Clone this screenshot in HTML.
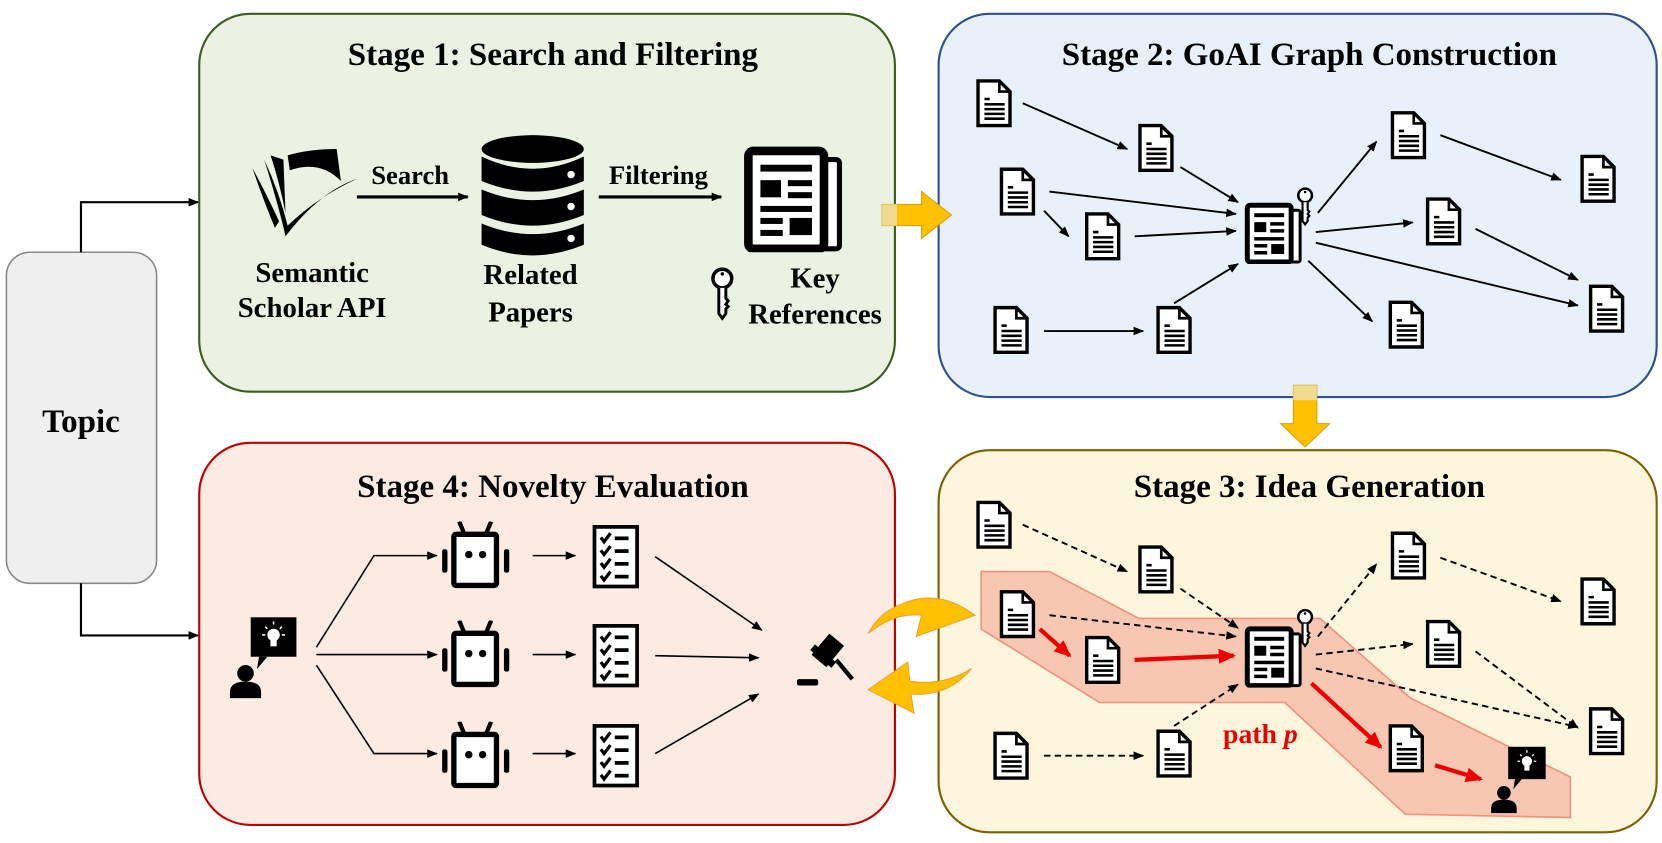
<!DOCTYPE html>
<html><head><meta charset="utf-8"><style>
html,body{margin:0;padding:0;background:#fff;}
svg{display:block;}
text{font-family:"Liberation Serif",serif;font-weight:bold;fill:#000;}
</style></head><body>
<svg width="1662" height="843" viewBox="0 0 1560 792" preserveAspectRatio="none" xmlns="http://www.w3.org/2000/svg">
<defs>
<marker id="ah" markerWidth="10" markerHeight="8" refX="9" refY="4" orient="auto" markerUnits="userSpaceOnUse"><path d="M0,0 L10,4 L0,8 Z" fill="#000"/></marker>
<marker id="ahr" markerWidth="16" markerHeight="14" refX="14" refY="7" orient="auto" markerUnits="userSpaceOnUse"><path d="M0,0 L16,7 L0,14 Z" fill="#e00"/></marker>
<symbol id="doc" viewBox="0 0 34 46"><path d="M2,2 H22 L32,12 V44 H2 Z" fill="#fff" stroke="#000" stroke-width="3.2"/><path d="M22,2 V12 H32" fill="none" stroke="#000" stroke-width="2.5"/><g stroke="#000" stroke-width="2.4"><line x1="8" y1="19" x2="13" y2="19"/><line x1="8" y1="24" x2="27" y2="24"/><line x1="8" y1="28.5" x2="27" y2="28.5"/><line x1="8" y1="33" x2="27" y2="33"/><line x1="8" y1="37.5" x2="27" y2="37.5"/></g></symbol>
<symbol id="news" viewBox="0 0 60 62"><rect x="44" y="8" width="12" height="52" rx="2" fill="#fff" stroke="#000" stroke-width="3"/><rect x="3" y="3" width="44" height="57" rx="3" fill="#fff" stroke="#000" stroke-width="5"/><g fill="#000"><rect x="10" y="11" width="30" height="4"/><rect x="10" y="20" width="12" height="10"/><rect x="26" y="20" width="14" height="3.5"/><rect x="26" y="27" width="14" height="3.5"/><rect x="10" y="35" width="30" height="3.5"/><rect x="10" y="42" width="13" height="3.5"/><rect x="10" y="49" width="13" height="3.5"/><rect x="27" y="42" width="13" height="10"/></g></symbol>
<symbol id="key" viewBox="0 0 20 46"><circle cx="10" cy="10" r="8" fill="#fff" stroke="#000" stroke-width="3"/><circle cx="10" cy="6" r="1.5" fill="#000"/><path d="M7,18 V40 L10,44 L13,40 V36 L15,34 L13,32 L15,29 L13,27 V18" fill="#fff" stroke="#000" stroke-width="2.5"/></symbol>
<symbol id="robot" viewBox="0 0 70 64"><line x1="24" y1="12" x2="19" y2="0" stroke="#000" stroke-width="4"/><line x1="44" y1="12" x2="49" y2="0" stroke="#000" stroke-width="4"/><rect x="14" y="12" width="40" height="48" rx="2" fill="#fff" stroke="#000" stroke-width="5"/><circle cx="28" cy="31" r="3.5" fill="#000"/><circle cx="41" cy="31" r="3.5" fill="#000"/><rect x="3" y="26" width="5" height="22" rx="2" fill="#000"/><rect x="61" y="26" width="5" height="22" rx="2" fill="#000"/></symbol>
<symbol id="check" viewBox="0 0 46 62"><rect x="3" y="3" width="40" height="56" fill="#fff" stroke="#000" stroke-width="3.5"/><g fill="none" stroke="#000" stroke-width="3"><path d="M9,13 l3,4 l6,-8"/><path d="M9,25 l3,4 l6,-8"/><path d="M9,37 l3,4 l6,-8"/><path d="M9,49 l3,4 l6,-8"/></g><g fill="#000"><rect x="22" y="12" width="13" height="3.5"/><rect x="22" y="24" width="13" height="3.5"/><rect x="22" y="36" width="13" height="3.5"/><rect x="22" y="48" width="13" height="3.5"/></g></symbol>
<symbol id="person" viewBox="0 0 70 80"><rect x="22" y="2" width="44" height="38" fill="#000"/><path d="M30,40 L38,40 L28,52 Z" fill="#000"/><circle cx="44" cy="19" r="6" fill="#fff"/><rect x="41" y="24" width="6" height="6" fill="#fff"/><g stroke="#fff" stroke-width="1.5"><line x1="44" y1="6" x2="44" y2="9"/><line x1="33" y1="19" x2="36" y2="19"/><line x1="52" y1="19" x2="55" y2="19"/><line x1="36" y1="11" x2="38" y2="13"/><line x1="52" y1="11" x2="50" y2="13"/></g><circle cx="17" cy="56" r="8" fill="#000"/><path d="M2,80 V74 Q2,64 17,64 Q32,64 32,74 V80 Z" fill="#000"/></symbol>
</defs>

<rect x="6" y="237" width="141" height="311" rx="22" fill="#efefef" stroke="#888" stroke-width="1.5"/>
<text x="76" y="406" font-size="31" text-anchor="middle">Topic</text>
<path d="M76,237 V190 H186" fill="none" stroke="#000" stroke-width="2" marker-end="url(#ah)"/>
<path d="M76,548 V597 H186" fill="none" stroke="#000" stroke-width="2" marker-end="url(#ah)"/>

<rect x="187" y="13" width="653" height="355" rx="48" fill="#ebf2e3" stroke="#3d5c20" stroke-width="2"/>
<rect x="881" y="13" width="674" height="360" rx="48" fill="#e8f0f9" stroke="#2e5090" stroke-width="2"/>
<rect x="187" y="416" width="653" height="359" rx="48" fill="#fbebe3" stroke="#c00000" stroke-width="2"/>
<rect x="881" y="423" width="674" height="359" rx="48" fill="#fdf5dc" stroke="#7f6000" stroke-width="2"/>

<text x="519" y="61" font-size="31" text-anchor="middle">Stage 1: Search and Filtering</text>
<text x="1229" y="61" font-size="31" text-anchor="middle">Stage 2: GoAI Graph Construction</text>
<text x="519" y="467" font-size="31" text-anchor="middle">Stage 4: Novelty Evaluation</text>
<text x="1229" y="467" font-size="31" text-anchor="middle">Stage 3: Idea Generation</text>

<g fill="#000">
<path d="M248,150 Q262,195 268,222 Q300,180 335,168 Q298,185 270,212 Q262,180 248,150 Z"/>
<path d="M237,158 Q250,182 262,208 L258,214 Q246,185 237,158 Z"/>
<path d="M254,146 Q262,170 268,200 L266,150 Z"/>
<path d="M270,146 Q290,140 316,140 L320,170 Q300,150 272,160 Z"/>
</g>
<line x1="335" y1="185" x2="439" y2="185" stroke="#000" stroke-width="3" marker-end="url(#ah)"/>
<text x="385" y="173" font-size="25" text-anchor="middle">Search</text>
<g fill="#000">
<ellipse cx="500" cy="140" rx="48" ry="13"/>
<path d="M452,147 Q500,170 548,147 V170 Q500,190 452,170 Z"/>
<path d="M452,178 Q500,198 548,178 V202 Q500,222 452,202 Z"/>
<path d="M452,210 Q500,230 548,210 V230 Q500,250 452,230 Z"/>
</g>
<circle cx="536" cy="164" r="3.5" fill="#fff"/><circle cx="536" cy="194" r="3.5" fill="#fff"/><circle cx="536" cy="224" r="3.5" fill="#fff"/>
<line x1="562" y1="185" x2="677" y2="185" stroke="#000" stroke-width="3" marker-end="url(#ah)"/>
<text x="618" y="173" font-size="25" text-anchor="middle">Filtering</text>
<use href="#news" x="695" y="137" width="102" height="100"/>
<use href="#key" x="667" y="247" width="22" height="58"/>
<text x="293" y="265" font-size="27" text-anchor="middle">Semantic</text>
<text x="293" y="298" font-size="27" text-anchor="middle">Scholar API</text>
<text x="498" y="267" font-size="27" text-anchor="middle">Related</text>
<text x="498" y="302" font-size="27" text-anchor="middle">Papers</text>
<text x="765" y="270" font-size="27" text-anchor="middle">Key</text>
<text x="765" y="304" font-size="27" text-anchor="middle">References</text>

<path d="M828,192 H865 V180 L893,202 L865,224 V212 H828 Z" fill="#ffc000" stroke="#d9a000" stroke-width="1"/>
<rect x="828" y="192" width="14" height="20" fill="#f0dc90"/>
<path d="M1214,362 H1236 V398 H1248 L1225,420 L1202,398 H1214 Z" fill="#ffc000" stroke="#d9a000" stroke-width="1"/>
<rect x="1214" y="362" width="22" height="14" fill="#f0dc90"/>
<path d="M915,578 Q880,552 845,568 Q825,576 815,595 Q840,575 865,578 L860,598 Z" fill="#ffc000" stroke="#f0a030" stroke-width="1"/>
<path d="M912,628 Q890,655 855,652 L858,670 L815,648 L852,622 L854,640 Q885,645 912,628 Z" fill="#ffc000" stroke="#f0a030" stroke-width="1"/>

<g stroke="#000" stroke-width="1.8" fill="none" marker-end="url(#ah)">
<line x1="960" y1="97" x2="1058" y2="140"/>
<line x1="1108" y1="157" x2="1162" y2="190"/>
<line x1="985" y1="180" x2="1160" y2="201"/>
<line x1="980" y1="198" x2="1003" y2="222"/>
<line x1="1065" y1="222" x2="1160" y2="217"/>
<line x1="980" y1="311" x2="1073" y2="311"/>
<line x1="1102" y1="285" x2="1162" y2="248"/>
<line x1="1237" y1="200" x2="1292" y2="133"/>
<line x1="1352" y1="127" x2="1465" y2="169"/>
<line x1="1235" y1="218" x2="1326" y2="209"/>
<line x1="1385" y1="215" x2="1481" y2="263"/>
<line x1="1235" y1="228" x2="1481" y2="287"/>
<line x1="1228" y1="245" x2="1288" y2="302"/>
</g>
<use href="#doc" x="916" y="74" width="34" height="46"/>
<use href="#doc" x="1068" y="116" width="34" height="46"/>
<use href="#doc" x="938" y="157" width="34" height="46"/>
<use href="#doc" x="1018" y="199" width="34" height="46"/>
<use href="#doc" x="932" y="287" width="34" height="46"/>
<use href="#doc" x="1085" y="287" width="34" height="46"/>
<use href="#doc" x="1305" y="104" width="34" height="46"/>
<use href="#doc" x="1483" y="145" width="34" height="46"/>
<use href="#doc" x="1338" y="185" width="34" height="46"/>
<use href="#doc" x="1491" y="267" width="34" height="46"/>
<use href="#doc" x="1303" y="282" width="34" height="46"/>
<use href="#news" x="1167" y="190" width="58" height="58"/>
<use href="#key" x="1217" y="174" width="16" height="40"/>

<polygon points="921,537 985,537 1069,581 1239,581 1324,656 1474,730 1474,768 1319,765 1206,660 1032,660 921,591" fill="#f4a090" fill-opacity="0.55" stroke="#f09080" stroke-width="1.5"/>
<g stroke="#000" stroke-width="1.8" fill="none" stroke-dasharray="6,4" marker-end="url(#ah)">
<line x1="960" y1="493" x2="1058" y2="537"/>
<line x1="1108" y1="553" x2="1162" y2="590"/>
<line x1="985" y1="578" x2="1160" y2="598"/>
<line x1="980" y1="710" x2="1073" y2="710"/>
<line x1="1102" y1="682" x2="1162" y2="643"/>
<line x1="1237" y1="598" x2="1292" y2="530"/>
<line x1="1352" y1="524" x2="1465" y2="565"/>
<line x1="1235" y1="615" x2="1326" y2="605"/>
<line x1="1385" y1="612" x2="1481" y2="684"/>
<line x1="1235" y1="628" x2="1481" y2="683"/>
</g>
<g stroke="#e00" stroke-width="4" fill="none" marker-end="url(#ahr)">
<line x1="976" y1="591" x2="1004" y2="616"/>
<line x1="1065" y1="620" x2="1158" y2="616"/>
<line x1="1231" y1="642" x2="1296" y2="702"/>
<line x1="1347" y1="719" x2="1390" y2="732"/>
</g>
<use href="#doc" x="916" y="470" width="34" height="46"/>
<use href="#doc" x="1068" y="512" width="34" height="46"/>
<use href="#doc" x="938" y="554" width="34" height="46"/>
<use href="#doc" x="1018" y="597" width="34" height="46"/>
<use href="#doc" x="932" y="687" width="34" height="46"/>
<use href="#doc" x="1085" y="685" width="34" height="46"/>
<use href="#doc" x="1305" y="499" width="34" height="46"/>
<use href="#doc" x="1483" y="542" width="34" height="46"/>
<use href="#doc" x="1338" y="582" width="34" height="46"/>
<use href="#doc" x="1491" y="664" width="34" height="46"/>
<use href="#doc" x="1303" y="680" width="34" height="46"/>
<use href="#news" x="1167" y="588" width="58" height="58"/>
<use href="#key" x="1217" y="570" width="16" height="40"/>
<use href="#person" x="1398" y="700" width="56" height="64"/>
<text x="1148" y="698" font-size="26" style="fill:#e00">path <tspan font-style="italic">p</tspan></text>

<use href="#person" x="212" y="578" width="72" height="78"/>
<g stroke="#000" stroke-width="1.5" fill="none" marker-end="url(#ah)">
<path d="M297,608 L351,522 H410"/>
<path d="M297,615 H410"/>
<path d="M297,625 L351,708 H410"/>
<line x1="500" y1="522" x2="540" y2="522"/>
<line x1="500" y1="615" x2="540" y2="615"/>
<line x1="500" y1="708" x2="540" y2="708"/>
<line x1="615" y1="523" x2="715" y2="592"/>
<line x1="615" y1="616" x2="712" y2="618"/>
<line x1="615" y1="708" x2="712" y2="652"/>
</g>
<use href="#robot" x="412" y="490" width="70" height="64"/>
<use href="#robot" x="412" y="583" width="70" height="64"/>
<use href="#robot" x="412" y="678" width="70" height="64"/>
<use href="#check" x="555" y="492" width="46" height="62"/>
<use href="#check" x="555" y="585" width="46" height="62"/>
<use href="#check" x="555" y="679" width="46" height="62"/>
<g fill="#000">
<rect x="760" y="613" width="26" height="7" transform="rotate(40 773 616)"/>
<rect x="768" y="598" width="18" height="26" transform="rotate(40 777 611)"/>
<line x1="785" y1="620" x2="800" y2="638" stroke="#000" stroke-width="4"/>
<rect x="748" y="638" width="20" height="6" rx="2"/>
</g>
</svg>
</body></html>
